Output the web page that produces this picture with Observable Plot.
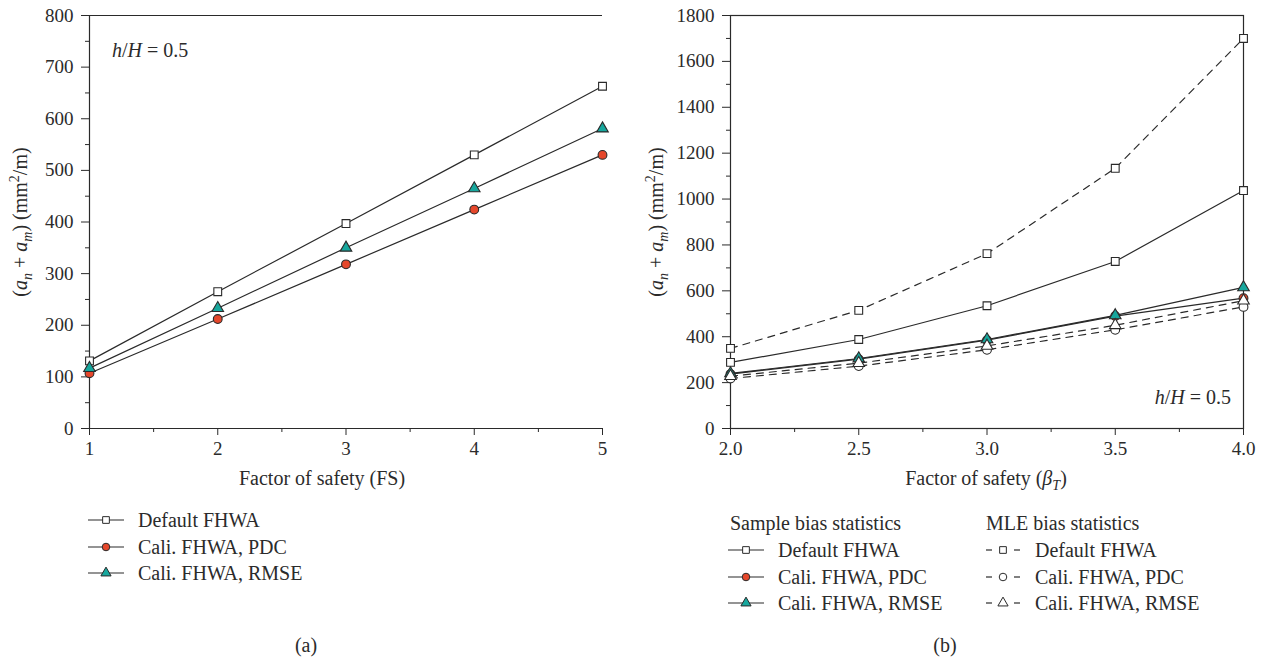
<!DOCTYPE html>
<html><head><meta charset="utf-8">
<script src="https://cdn.jsdelivr.net/npm/d3@7"></script>
<script src="https://cdn.jsdelivr.net/npm/@observablehq/plot@0.6"></script>
<style>
body{margin:0;background:#fff;}
#root{position:relative;width:1263px;height:660px;font-family:"Liberation Serif",serif;color:#2b2b2b;overflow:hidden;}
.row{position:absolute;font-size:20px;white-space:nowrap;display:flex;align-items:center;height:26px;}
.row svg{margin-right:14px;}
.cap{position:absolute;font-size:20px;white-space:nowrap;line-height:1;transform:translate(-50%,-50%);}
.rot{transform:translate(-50%,-50%) rotate(-90deg);}
.lft{transform:translate(0,-50%);}
.rgt{transform:translate(-100%,-50%);}
.cap sub,.cap sup{font-size:70%;line-height:0;}
</style></head><body><div id="root"></div>
<script>
// ---------- data (panel a) ----------
const fsA = [1, 2, 3, 4, 5];
const defaultA = [131, 265, 397, 530, 663];
const pdcA = [107, 212, 318, 424, 530];
const rmseA = [117, 233, 350, 465, 581];
const xTicksA = [1, 2, 3, 4, 5];
const xMinorA = [1.5, 2.5, 3.5, 4.5];
const yTicksA = [0, 100, 200, 300, 400, 500, 600, 700, 800];
const yMinorA = [50, 150, 250, 350, 450, 550, 650, 750];
// ---------- data (panel b) ----------
const betaB = [2.0, 2.5, 3.0, 3.5, 4.0];
const sampleDefaultB = [288, 388, 535, 728, 1037];
const samplePdcB = [237, 302, 385, 490, 568];
const sampleRmseB = [240, 305, 388, 493, 615];
const mleDefaultB = [349, 515, 762, 1134, 1700];
const mlePdcB = [218, 272, 343, 430, 530];
const mleRmseB = [228, 285, 360, 450, 557];
const xTicksB = [2.0, 2.5, 3.0, 3.5, 4.0];
const xMinorB = [2.25, 2.75, 3.25, 3.75];
const yTicksB = [0, 200, 400, 600, 800, 1000, 1200, 1400, 1600, 1800];
const yMinorB = [100, 300, 500, 700, 900, 1100, 1300, 1500, 1700];

const RED = "#e5472b", TEAL = "#17a79d", INK = "#2a2a2a";
const FONT = "Liberation Serif, Times New Roman, serif";
const root = document.getElementById("root");
const rows = (xs, ys) => xs.map((x, i) => ({x, y: ys[i]}));

function series(xs, ys, symbol, fill, dashed, r) {
  const d = rows(xs, ys);
  return {
    line: Plot.line(d, {x: "x", y: "y", stroke: INK, strokeWidth: 1.2, strokeDasharray: dashed ? "7,6" : null}),
    dot: Plot.dot(d, {x: "x", y: "y", symbol, fill, stroke: INK, strokeWidth: 1.1, r})
  };
}

function axes(xt, xm, yt, ym, fmt) {
  return [
    Plot.axisX({ticks: xt, tickSize: 7, tickPadding: 6, tickFormat: fmt, label: null, stroke: INK, fontFamily: FONT}),
    Plot.axisX({ticks: xm, tickSize: 4, tickFormat: () => "", label: null, stroke: INK}),
    Plot.axisY({ticks: yt, tickSize: 8, tickPadding: 8, tickFormat: d => String(d), label: null, stroke: INK, fontFamily: FONT}),
    Plot.axisY({ticks: ym, tickSize: 4, tickFormat: () => "", label: null, stroke: INK})
  ];
}

const style = {fontFamily: FONT, fontSize: "19px", color: "#2b2b2b"};

// ---------- panel a ----------
const sA = [
  series(fsA, defaultA, "square", "white", false, 4.4),
  series(fsA, pdcA, "circle", RED, false, 4.4),
  series(fsA, rmseA, "triangle", TEAL, false, 4.3)
];
const plotA = Plot.plot({
  width: 640, height: 480, marginLeft: 89, marginRight: 38, marginTop: 15, marginBottom: 52,
  x: {domain: [1, 5]}, y: {domain: [0, 800]}, style,
  marks: [
    ...axes(xTicksA, xMinorA, yTicksA, yMinorA, d => String(d)),
    Plot.ruleX([1], {stroke: INK, strokeWidth: 1.2}),
    Plot.ruleY([0], {stroke: INK, strokeWidth: 1.2}),
    Plot.ruleY([800], {stroke: INK, strokeWidth: 1.2}),
    ...sA.map(s => s.line), ...sA.map(s => s.dot)
  ]
});

// ---------- panel b ----------
const sB = [
  series(betaB, sampleDefaultB, "square", "white", false, 4.4),
  series(betaB, samplePdcB, "circle", RED, false, 4.4),
  series(betaB, sampleRmseB, "triangle", TEAL, false, 4.3),
  series(betaB, mleDefaultB, "square", "white", true, 4.4),
  series(betaB, mlePdcB, "circle", "white", true, 4.4),
  series(betaB, mleRmseB, "triangle", "white", true, 4.3)
];
const plotB = Plot.plot({
  width: 623, height: 480, marginLeft: 90, marginRight: 20, marginTop: 15, marginBottom: 52,
  x: {domain: [2, 4]}, y: {domain: [0, 1800]}, style,
  marks: [
    ...axes(xTicksB, xMinorB, yTicksB, yMinorB, d3.format(".1f")),
    Plot.frame({stroke: INK, strokeWidth: 1.2}),
    ...sB.map(s => s.line), ...sB.map(s => s.dot)
  ]
});

function place(svg, left) {
  svg.style.position = "absolute";
  svg.style.top = "0px";
  svg.style.left = left + "px";
  root.appendChild(svg);
}
place(plotA, 0);
place(plotB, 640);

// ---------- titles and annotations (HTML text) ----------
function cap(x, y, html, cls) {
  const d = document.createElement("div");
  d.className = "cap" + (cls ? " " + cls : "");
  d.style.left = x + "px"; d.style.top = y + "px"; d.innerHTML = html;
  root.appendChild(d);
}
const yTitle = "(<i>a</i><sub><i>n</i></sub> + <i>a</i><sub><i>m</i></sub>) (mm<sup>2</sup>/m)";
cap(20, 222, yTitle, "rot");
cap(656, 222, yTitle, "rot");
cap(322, 478, "Factor of safety (FS)");
cap(986, 478, "Factor of safety (<i>β</i><sub><i>T</i></sub>)");
cap(112, 50, "<i>h</i>/<i>H</i> = 0.5", "lft");
cap(1231, 397, "<i>h</i>/<i>H</i> = 0.5", "rgt");
cap(306, 645, "(a)");
cap(945, 645, "(b)");

// ---------- legends ----------
function swatch(symbol, fill, dashed) {
  const s = d3.create("svg").attr("width", 36).attr("height", 20);
  if (dashed) {
    s.append("line").attr("x1", 1).attr("x2", 7).attr("y1", 10).attr("y2", 10).attr("stroke", INK).attr("stroke-width", 1.2);
    s.append("line").attr("x1", 29).attr("x2", 35).attr("y1", 10).attr("y2", 10).attr("stroke", INK).attr("stroke-width", 1.2);
  } else {
    s.append("line").attr("x1", 0).attr("x2", 36).attr("y1", 10).attr("y2", 10).attr("stroke", INK).attr("stroke-width", 1.2);
  }
  const sym = {square: d3.symbolSquare, circle: d3.symbolCircle, triangle: d3.symbolTriangle}[symbol];
  s.append("path").attr("d", d3.symbol(sym, 45)()).attr("transform", "translate(18,10)")
    .attr("fill", fill).attr("stroke", INK).attr("stroke-width", 1);
  return s.node();
}
function legendRow(x, y, label, sw) {
  const d = document.createElement("div");
  d.className = "row";
  d.style.left = x + "px"; d.style.top = (y - 13) + "px";
  if (sw) d.appendChild(sw);
  d.appendChild(document.createTextNode(label));
  root.appendChild(d);
}
const names = ["Default FHWA", "Cali. FHWA, PDC", "Cali. FHWA, RMSE"];
const syms = ["square", "circle", "triangle"];
const fills = ["white", RED, TEAL];
const rowYA = [520, 547, 573];
names.forEach((n, i) => legendRow(88, rowYA[i], n, swatch(syms[i], fills[i], false)));
const rowYB = [550, 577, 603];
legendRow(730, 523, "Sample bias statistics", null);
legendRow(986, 523, "MLE bias statistics", null);
names.forEach((n, i) => legendRow(728, rowYB[i], n, swatch(syms[i], fills[i], false)));
names.forEach((n, i) => legendRow(985, rowYB[i], n, swatch(syms[i], "white", true)));
</script></body></html>
